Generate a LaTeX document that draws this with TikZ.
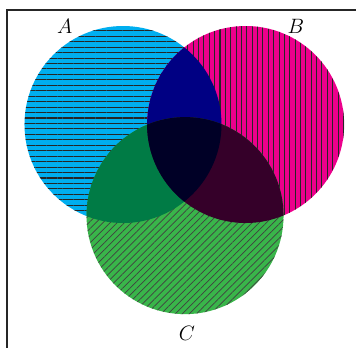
\documentclass[tikz,border=0pt]{standalone}
\usepackage{amsmath}
\usepackage{xcolor}
\usepackage{tikz}
\usetikzlibrary{patterns.meta}

\definecolor{setA}{RGB}{0,174,239}
\definecolor{setB}{RGB}{236,0,140}
\definecolor{setC}{RGB}{57,181,74}
\definecolor{setAB}{RGB}{0,0,131}
\definecolor{setAC}{RGB}{0,123,69}
\definecolor{setBC}{RGB}{53,0,41}
\definecolor{setABC}{RGB}{0,0,38}

\begin{document}
\begin{tikzpicture}[insieme/.style={font=\large}]
  \useasboundingbox (-2.497,-4.518) rectangle (4.731,2.528);
  \clip (-2.497,-4.518) rectangle (4.731,2.528);
  \def\r{2}
  \coordinate (A) at (0,0);
  \coordinate (B) at (2.49,0);
  \coordinate (C) at (1.26,-1.85);
  % cornice (universo)
  \draw[very thick,black!85] (-2.355,-6) -- (-2.355,2.325) -- (6,2.325);
  % insiemi con tratteggio
  \fill[setA,postaction={pattern={Lines[angle=0,distance=3.15pt,line width=0.6pt]},pattern color=black!85}] (A) circle (\r);
  \fill[setB,postaction={pattern={Lines[angle=90,distance=3.1pt,line width=0.6pt]},pattern color=black!85}] (B) circle (\r);
  \fill[setC,postaction={pattern={Lines[angle=45,distance=2.9pt,line width=0.4pt]},pattern color=black!75}] (C) circle (\r);
  % intersezioni (colori sovrapposti)
  \begin{scope}
    \clip (A) circle (\r);
    \fill[setAB] (B) circle (\r);
    \fill[setAC] (C) circle (\r);
  \end{scope}
  \begin{scope}
    \clip (B) circle (\r);
    \fill[setBC] (C) circle (\r);
    \clip (C) circle (\r);
    \fill[setABC] (A) circle (\r);
  \end{scope}
  \node[insieme] (la) at (-1.18,2.0) {$A$};
  \node[insieme] (lb) at (3.51,2.0) {$B$};
  \node[insieme] (lc) at (1.30,-4.234) {$C$};
\end{tikzpicture}
\end{document}
